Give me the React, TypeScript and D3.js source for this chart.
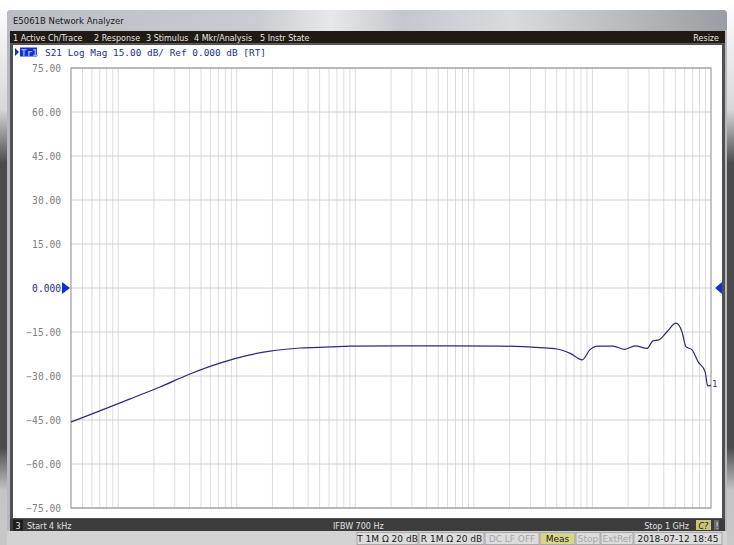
import React from 'react';
import * as d3 from 'd3';

// trace S21
const freqHz = [
    4e3, 7e3, 12.6e3, 22.5e3, 40.3e3, 72e3, 129e3, 191e3, 342e3, 612e3, 902e3,
    2.38e6, 6.3e6, 16.6e6, 36e6, 50e6, 65e6, 82e6, 95e6, 111e6, 149e6, 188e6,
    229e6, 289e6, 324e6, 364e6, 426e6, 507e6, 569e6, 615e6, 692e6, 777e6, 891e6, 938e6, 1e9,
];
const s21dB = [
    -45.7, -41.9, -37.8, -33.75, -29.3, -25.6, -22.8, -21.5, -20.45, -20.1, -19.8,
    -19.7, -19.7, -19.8, -20.35, -20.8, -22.3, -24.5, -21.1, -19.8, -19.8, -20.9,
    -19.7, -20.6, -18.0, -17.7, -14.9, -12.0, -14.9, -20.0, -21.1, -25.1, -28.5, -33.4, -33.2,
];
const yTicks = [75, 60, 45, 30, 15, 0, -15, -30, -45, -60, -75];
const menuItems = ['1 Active Ch/Trace', '2 Response', '3 Stimulus', '4 Mkr/Analysis', '5 Instr State'];
const menuX = [13, 94, 146, 194, 260];
const bottomItems = [
    { label: 'T 1M Ω 20 dB', x0: 357, x1: 418, dim: false, hi: false },
    { label: 'R 1M Ω 20 dB', x0: 419, x1: 484, dim: false, hi: false },
    { label: 'DC LF OFF', x0: 485, x1: 539, dim: true, hi: false },
    { label: 'Meas', x0: 540, x1: 575, dim: false, hi: true },
    { label: 'Stop', x0: 576, x1: 600, dim: true, hi: false },
    { label: 'ExtRef', x0: 601, x1: 633, dim: true, hi: false },
    { label: '2018-07-12 18:45', x0: 634, x1: 722, dim: false, hi: false },
];

const W = 734;
const H = 545;
const plot = { left: 71, right: 711, top: 68, bottom: 508 };
const mono = '"DejaVu Sans Mono", monospace';
const sans = '"DejaVu Sans", "Noto Sans", sans-serif';

const App = () => {
    const x = d3.scaleLog().domain([4e3, 1e9]).range([plot.left, plot.right]);
    const y = d3.scaleLinear().domain([-75, 75]).range([plot.bottom, plot.top]);

    // log grid: 1..9 x each decade inside the span
    const gridF: number[] = [];
    for (let e = 3; e <= 9; e++) {
        for (let m = 1; m <= 9; m++) {
            const f = m * Math.pow(10, e);
            if (f > 4e3 && f < 1e9) gridF.push(f);
        }
    }

    const pts = freqHz.map((f, i) => [f, s21dB[i]] as [number, number]);
    const line = d3
        .line<[number, number]>()
        .x((d) => x(d[0]))
        .y((d) => y(d[1]))
        .curve(d3.curveMonotoneX);

    const last = pts[pts.length - 1];

    return (
        <div style={{ position: 'fixed', left: 0, top: 0 }}>
            <svg width={W} height={H} style={{ display: 'block' }}>
                <defs>
                    <linearGradient id="outer" x1="0" y1="0" x2="0" y2="1">
                        <stop offset="0" stopColor="#ffffff" />
                        <stop offset="0.2" stopColor="#d8d8d8" />
                        <stop offset="0.3" stopColor="#4a4a4a" />
                        <stop offset="0.82" stopColor="#4a4a4a" />
                        <stop offset="0.9" stopColor="#c4c4c4" />
                        <stop offset="1" stopColor="#c8c8c8" />
                    </linearGradient>
                    <linearGradient id="title" x1="0" y1="0" x2="1" y2="0">
                        <stop offset="0" stopColor="#b9bcc3" />
                        <stop offset="0.35" stopColor="#c9ccd2" />
                        <stop offset="0.45" stopColor="#e6e8ec" />
                        <stop offset="0.55" stopColor="#c4c7ce" />
                        <stop offset="0.7" stopColor="#d8dbe0" />
                        <stop offset="1" stopColor="#9a9da3" />
                    </linearGradient>
                </defs>
                <rect x={0} y={0} width={W} height={H} fill="#ffffff" />
                {/* outer frame strips */}
                <rect x={0} y={0} width={7} height={H} fill="url(#outer)" />
                <rect x={727} y={0} width={7} height={H} fill="url(#outer)" />
                {/* window body */}
                <rect x={7} y={10} width={720} height={H - 10} rx={4} fill="#b4b8c0" />
                <rect x={7} y={10} width={720} height={21} rx={4} fill="url(#title)" />
                <text x={13} y={24} fontFamily={sans} fontSize={8.5} fill="#1a1a1a">
                    E5061B Network Analyzer
                </text>
                {/* menu bar */}
                <rect x={10} y={31} width={715} height={12.5} fill="#1f1a12" />
                {menuItems.map((m, i) => (
                    <text key={m} x={menuX[i]} y={40.5} fontFamily={sans} fontSize={8} fill="#e6e6e6">
                        {m}
                    </text>
                ))}
                <text x={719} y={40.5} textAnchor="end" fontFamily={sans} fontSize={8} fill="#e6e6e6">
                    Resize
                </text>
                {/* panel */}
                <rect x={10} y={43.5} width={715} height={476} fill="#505050" />
                <rect x={13} y={45} width={709} height={473} fill="#ffffff" />
                {/* header */}
                <path d="M15,48 L19,52 L15,56 Z" fill="#1530c8" />
                <rect x={20} y={47.5} width={17} height={9} fill="#1530c8" />
                <text x={21} y={55.5} fontFamily={mono} fontSize={9.4} fill="#8fb0ff" fontWeight="bold">
                    Tr1
                </text>
                <text x={45} y={55.5} fontFamily={mono} fontSize={9.4} fill="#1c2f8c" textLength={221} lengthAdjust="spacing">
                    S21 Log Mag 15.00 dB/ Ref 0.000 dB [RT]
                </text>
                {/* grid */}
                {gridF.map((f) => (
                    <line key={f} x1={x(f)} x2={x(f)} y1={plot.top} y2={plot.bottom} stroke="#dcdcdc" strokeWidth={1} />
                ))}
                {yTicks.map((t) => (
                    <line key={t} x1={plot.left} x2={plot.right} y1={y(t)} y2={y(t)} stroke="#d0d0d0" strokeWidth={1} />
                ))}
                <rect
                    x={plot.left}
                    y={plot.top}
                    width={plot.right - plot.left}
                    height={plot.bottom - plot.top}
                    fill="none"
                    stroke="#8a8a8a"
                    strokeWidth={1}
                />
                {/* y labels */}
                {yTicks.map((t) => (
                    <text
                        key={t}
                        x={61}
                        y={y(t) + 3.5}
                        textAnchor="end"
                        fontFamily={mono}
                        fontSize={9.6}
                        fill={t === 0 ? '#1c2f8c' : '#808080'}
                    >
                        {t === 0 ? '0.000' : d3.format('.2f')(t)}
                    </text>
                ))}
                {/* reference markers */}
                <path d={`M62,${y(0) - 6} L70,${y(0)} L62,${y(0) + 6} Z`} fill="#1530c8" />
                <path d={`M722,${y(0) - 6} L715,${y(0)} L722,${y(0) + 6} Z`} fill="#1530c8" />
                {/* trace */}
                <path d={line(pts) || ''} fill="none" stroke="#2b2b7e" strokeWidth={1.2} />
                <text x={x(last[0]) + 1} y={y(last[1]) + 2} fontFamily={sans} fontSize={9} fill="#3a3aa8">
                    1
                </text>
                {/* status bar */}
                <rect x={10} y={519} width={715} height={12} fill="#3c3c3c" />
                <rect x={13} y={519.5} width={10} height={11} fill="#1e1e1e" />
                <text x={15.5} y={528.5} fontFamily={sans} fontSize={8} fill="#e8e8e8">
                    3
                </text>
                <text x={27} y={528.5} fontFamily={sans} fontSize={8} fill="#e0e0e0">
                    Start 4 kHz
                </text>
                <text x={333} y={528.5} fontFamily={sans} fontSize={8} fill="#e0e0e0">
                    IFBW 700 Hz
                </text>
                <text x={689} y={528.5} textAnchor="end" fontFamily={sans} fontSize={8} fill="#e0e0e0">
                    Stop 1 GHz
                </text>
                <rect x={696} y={520} width={15} height={10} fill="#c9c67a" />
                <text x={698.5} y={528.5} fontFamily={sans} fontSize={8} fontStyle="italic" fill="#202020">
                    C?
                </text>
                <rect x={714} y={520} width={5} height={10} fill="#6a6a6a" />
                <text x={715.5} y={528.5} fontFamily={sans} fontSize={8} fill="#e0e0e0">
                    !
                </text>
                {/* bottom bar */}
                <rect x={7} y={531} width={720} height={14} fill="#d3d3d3" />
                {bottomItems.map((b) => (
                    <g key={b.label}>
                        <rect
                            x={b.x0}
                            y={532.5}
                            width={b.x1 - b.x0}
                            height={12}
                            fill={b.hi ? '#d8d48a' : '#dcdcdc'}
                            stroke="#a8a8a8"
                            strokeWidth={1}
                        />
                        <text
                            x={(b.x0 + b.x1) / 2}
                            y={542}
                            textAnchor="middle"
                            fontFamily={sans}
                            fontSize={9}
                            fill={b.dim ? '#a8a8a8' : '#1a1a1a'}
                        >
                            {b.label}
                        </text>
                    </g>
                ))}
            </svg>
        </div>
    );
};

export default App;
